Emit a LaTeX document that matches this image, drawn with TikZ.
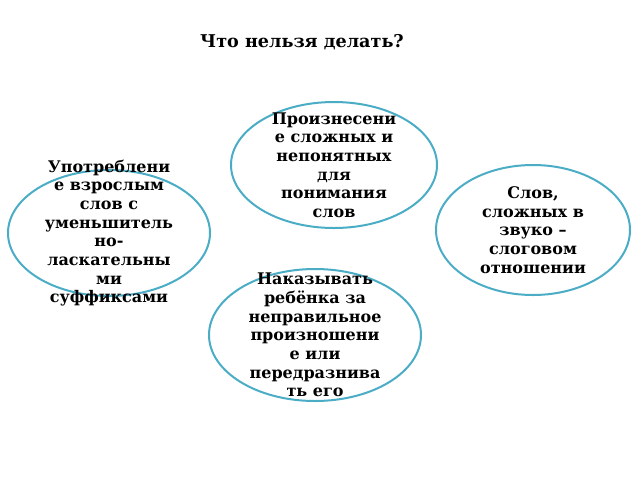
\documentclass[tikz,border=0pt]{standalone}
\usepackage{fontspec}
\setmainfont{DejaVu Serif}
\usetikzlibrary{shapes.geometric}

\definecolor{bubbleblue}{RGB}{75,172,198}

\tikzset{
    bubble/.style={ellipse, draw=bubbleblue, line width=1.5pt, inner sep=0pt},
    txt/.style={align=center, font=\fontsize{12}{14}\selectfont\bfseries}
}

\begin{document}
\begin{tikzpicture}[x=0.75pt, y=-0.75pt]
    % Page frame
    \useasboundingbox (0, 0) rectangle (640, 480);
    % Title
    \node[txt, font=\fontsize{13.2}{16}\selectfont\bfseries] (title) at (302, 42) {Что нельзя делать?};
    % Draw the four ellipses
    \node[bubble, minimum width=154.5pt, minimum height=94.5pt] (top) at (334, 165) {};
    \node[bubble, minimum width=151.5pt, minimum height=94.5pt] (left) at (109, 233) {};
    \node[bubble, minimum width=145.5pt, minimum height=97.5pt] (right) at (533, 230) {};
    \node[bubble, minimum width=159pt, minimum height=99pt] (bottom) at (315, 335) {};
    % Texts inside the ellipses
    \node[txt] (toptext) at (top) {Произнесени\\е сложных и\\непонятных\\для\\понимания\\слов};
    \node[txt] (lefttext) at (left) {Употреблени\\е взрослым\\слов с\\уменьшитель\\но-\\ласкательны\\ми\\суффиксами};
    \node[txt] (righttext) at (right) {Слов,\\сложных в\\звуко –\\слоговом\\отношении};
    \node[txt] (bottomtext) at (bottom) {Наказывать\\ребёнка за\\неправильное\\произношени\\е или\\передразнива\\ть его};
\end{tikzpicture}
\end{document}
